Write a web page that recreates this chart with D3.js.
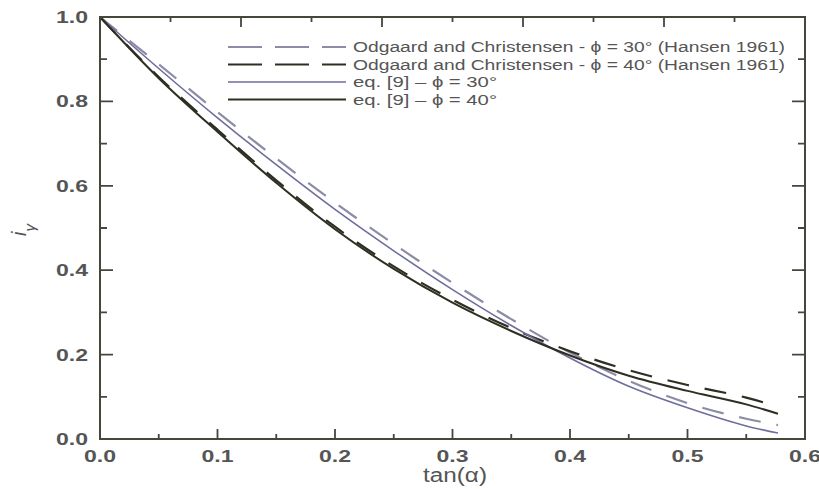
<!DOCTYPE html>
<html><head><meta charset="utf-8">
<script src="https://cdn.jsdelivr.net/npm/d3@7"></script>
<style>body{margin:0;background:#fff}svg{display:block}text{font-family:"Liberation Sans",Arial,sans-serif}</style>
</head><body>
<script>
const tanAlpha = [0, 0.05, 0.10, 0.15, 0.20, 0.25, 0.30, 0.35, 0.40, 0.45, 0.50, 0.55, 0.577];
const odgaard30 = [1, 0.888, 0.775, 0.665, 0.560, 0.462, 0.370, 0.284, 0.205, 0.138, 0.085, 0.048, 0.033];
const odgaard40 = [1, 0.858, 0.733, 0.613, 0.503, 0.409, 0.330, 0.263, 0.208, 0.163, 0.128, 0.098, 0.077];
const eq9_30 = [1, 0.878, 0.761, 0.650, 0.544, 0.446, 0.354, 0.269, 0.192, 0.125, 0.074, 0.031, 0.014];
const eq9_40 = [1, 0.855, 0.728, 0.607, 0.497, 0.403, 0.323, 0.256, 0.198, 0.150, 0.114, 0.082, 0.060];
const xTicks = [0, 0.1, 0.2, 0.3, 0.4, 0.5, 0.6];
const yTicks = [0, 0.2, 0.4, 0.6, 0.8, 1.0];
const xMinor = [0.05, 0.15, 0.25, 0.35, 0.45, 0.55];
const yMinor = [0.1, 0.3, 0.5, 0.7, 0.9];
const topTicks = [0.1, 0.2, 0.3, 0.4];
const topMinor = [0.05, 0.15, 0.25, 0.35, 0.45];
const seriesNames = [
  "Odgaard and Christensen - \u03d5 = 30\u00b0 (Hansen 1961)",
  "Odgaard and Christensen - \u03d5 = 40\u00b0 (Hansen 1961)",
  "eq. [9] \u2013 \u03d5 = 30\u00b0",
  "eq. [9] \u2013 \u03d5 = 40\u00b0"
];

const W = 819, H = 489;
const m = {l: 100, r: 14, t: 17, b: 50};
const svg = d3.select("body").append("svg").attr("width", W).attr("height", H);
const x = d3.scaleLinear().domain([0, 0.6]).range([m.l, W - m.r]);
const xTop = d3.scaleLinear().domain([0, 0.5]).range([m.l, W - m.r]);
const y = d3.scaleLinear().domain([0, 1]).range([H - m.b, m.t]);
const axisCol = "#46463a", textCol = "#555";

const series = [
  {name: seriesNames[0], vals: odgaard30, color: "#8c8ca6", w: 2.2, dash: "22,16", ldash: "34,13"},
  {name: seriesNames[1], vals: odgaard40, color: "#2e2e22", w: 2.2, dash: "22,16", ldash: "34,13"},
  {name: seriesNames[2], vals: eq9_30, color: "#6e6e9e", w: 1.6, dash: null, ldash: null},
  {name: seriesNames[3], vals: eq9_40, color: "#2e2e22", w: 2.0, dash: null, ldash: null}
];

const line = d3.line().x(d => x(d[0])).y(d => y(d[1])).curve(d3.curveMonotoneX);
series.forEach(s => {
  svg.append("path").datum(tanAlpha.map((t, i) => [t, s.vals[i]]))
    .attr("d", line).attr("fill", "none").attr("stroke", s.color)
    .attr("stroke-width", s.w).attr("stroke-dasharray", s.dash);
});

// ticks (inward, on all four sides) built as one path
let tp = "";
const x0 = x(0), x1 = x(0.6), y0 = y(0), y1 = y(1);
function addBottom(vals, len) { vals.forEach(v => { tp += `M${x(v)},${y0}V${y0 - len}`; }); }
function addTop(vals, len) { vals.forEach(v => { tp += `M${xTop(v)},${y1}V${y1 + len}`; }); }
function addH(vals, len) {
  vals.forEach(v => { const py = y(v); tp += `M${x0},${py}H${x0 + len}M${x1},${py}H${x1 - len}`; });
}
addBottom(xTicks, 10); addBottom(xMinor, 5);
addTop(topTicks, 10); addTop(topMinor, 5);
addH(yTicks, 13); addH(yMinor, 7);
svg.append("path").attr("d", tp).attr("fill", "none").attr("stroke", axisCol).attr("stroke-width", 1.8);
svg.append("rect").attr("x", x0).attr("y", y1).attr("width", x1 - x0).attr("height", y0 - y1)
  .attr("fill", "none").attr("stroke", axisCol).attr("stroke-width", 2);

// tick labels
const fmt = d3.format(".1f");
svg.append("g").selectAll("text").data(xTicks).join("text")
  .attr("x", d => x(d)).attr("y", y0 + 23).attr("text-anchor", "middle")
  .attr("fill", textCol).style("font-size", "16px").style("font-weight", "bold")
  .attr("textLength", 32).attr("lengthAdjust", "spacingAndGlyphs").text(fmt);
svg.append("g").selectAll("text").data(yTicks).join("text")
  .attr("x", 88).attr("y", d => y(d) + 6).attr("text-anchor", "end")
  .attr("fill", textCol).style("font-size", "16px").style("font-weight", "bold")
  .attr("textLength", 32).attr("lengthAdjust", "spacingAndGlyphs").text(fmt);

// axis titles
svg.append("text").attr("x", 455).attr("y", 482).attr("text-anchor", "middle")
  .attr("fill", textCol).style("font-size", "20px")
  .attr("textLength", 64).attr("lengthAdjust", "spacingAndGlyphs").text("tan(\u03b1)");
svg.append("text").attr("transform", `translate(26,${y(0.5) + 2}) rotate(-90)`).attr("text-anchor", "middle")
  .attr("fill", textCol).style("font-size", "20px").style("font-style", "italic")
  .html('i<tspan baseline-shift="sub" font-size="15px">\u03b3</tspan>');

// legend
const leg = svg.append("g");
const lx0 = 228, lx1 = 346, ly0 = 47, ldy = 17.5;
series.forEach((s, i) => {
  const yy = ly0 + i * ldy;
  leg.append("line").attr("x1", lx0).attr("x2", lx1).attr("y1", yy).attr("y2", yy)
    .attr("stroke", s.color).attr("stroke-width", s.w).attr("stroke-dasharray", s.ldash);
  leg.append("text").attr("x", 353).attr("y", yy + 5).attr("fill", textCol)
    .style("font-size", "14px")
    .attr("textLength", i < 2 ? 432 : 144).attr("lengthAdjust", "spacingAndGlyphs").text(s.name);
});
</script>
</body></html>
